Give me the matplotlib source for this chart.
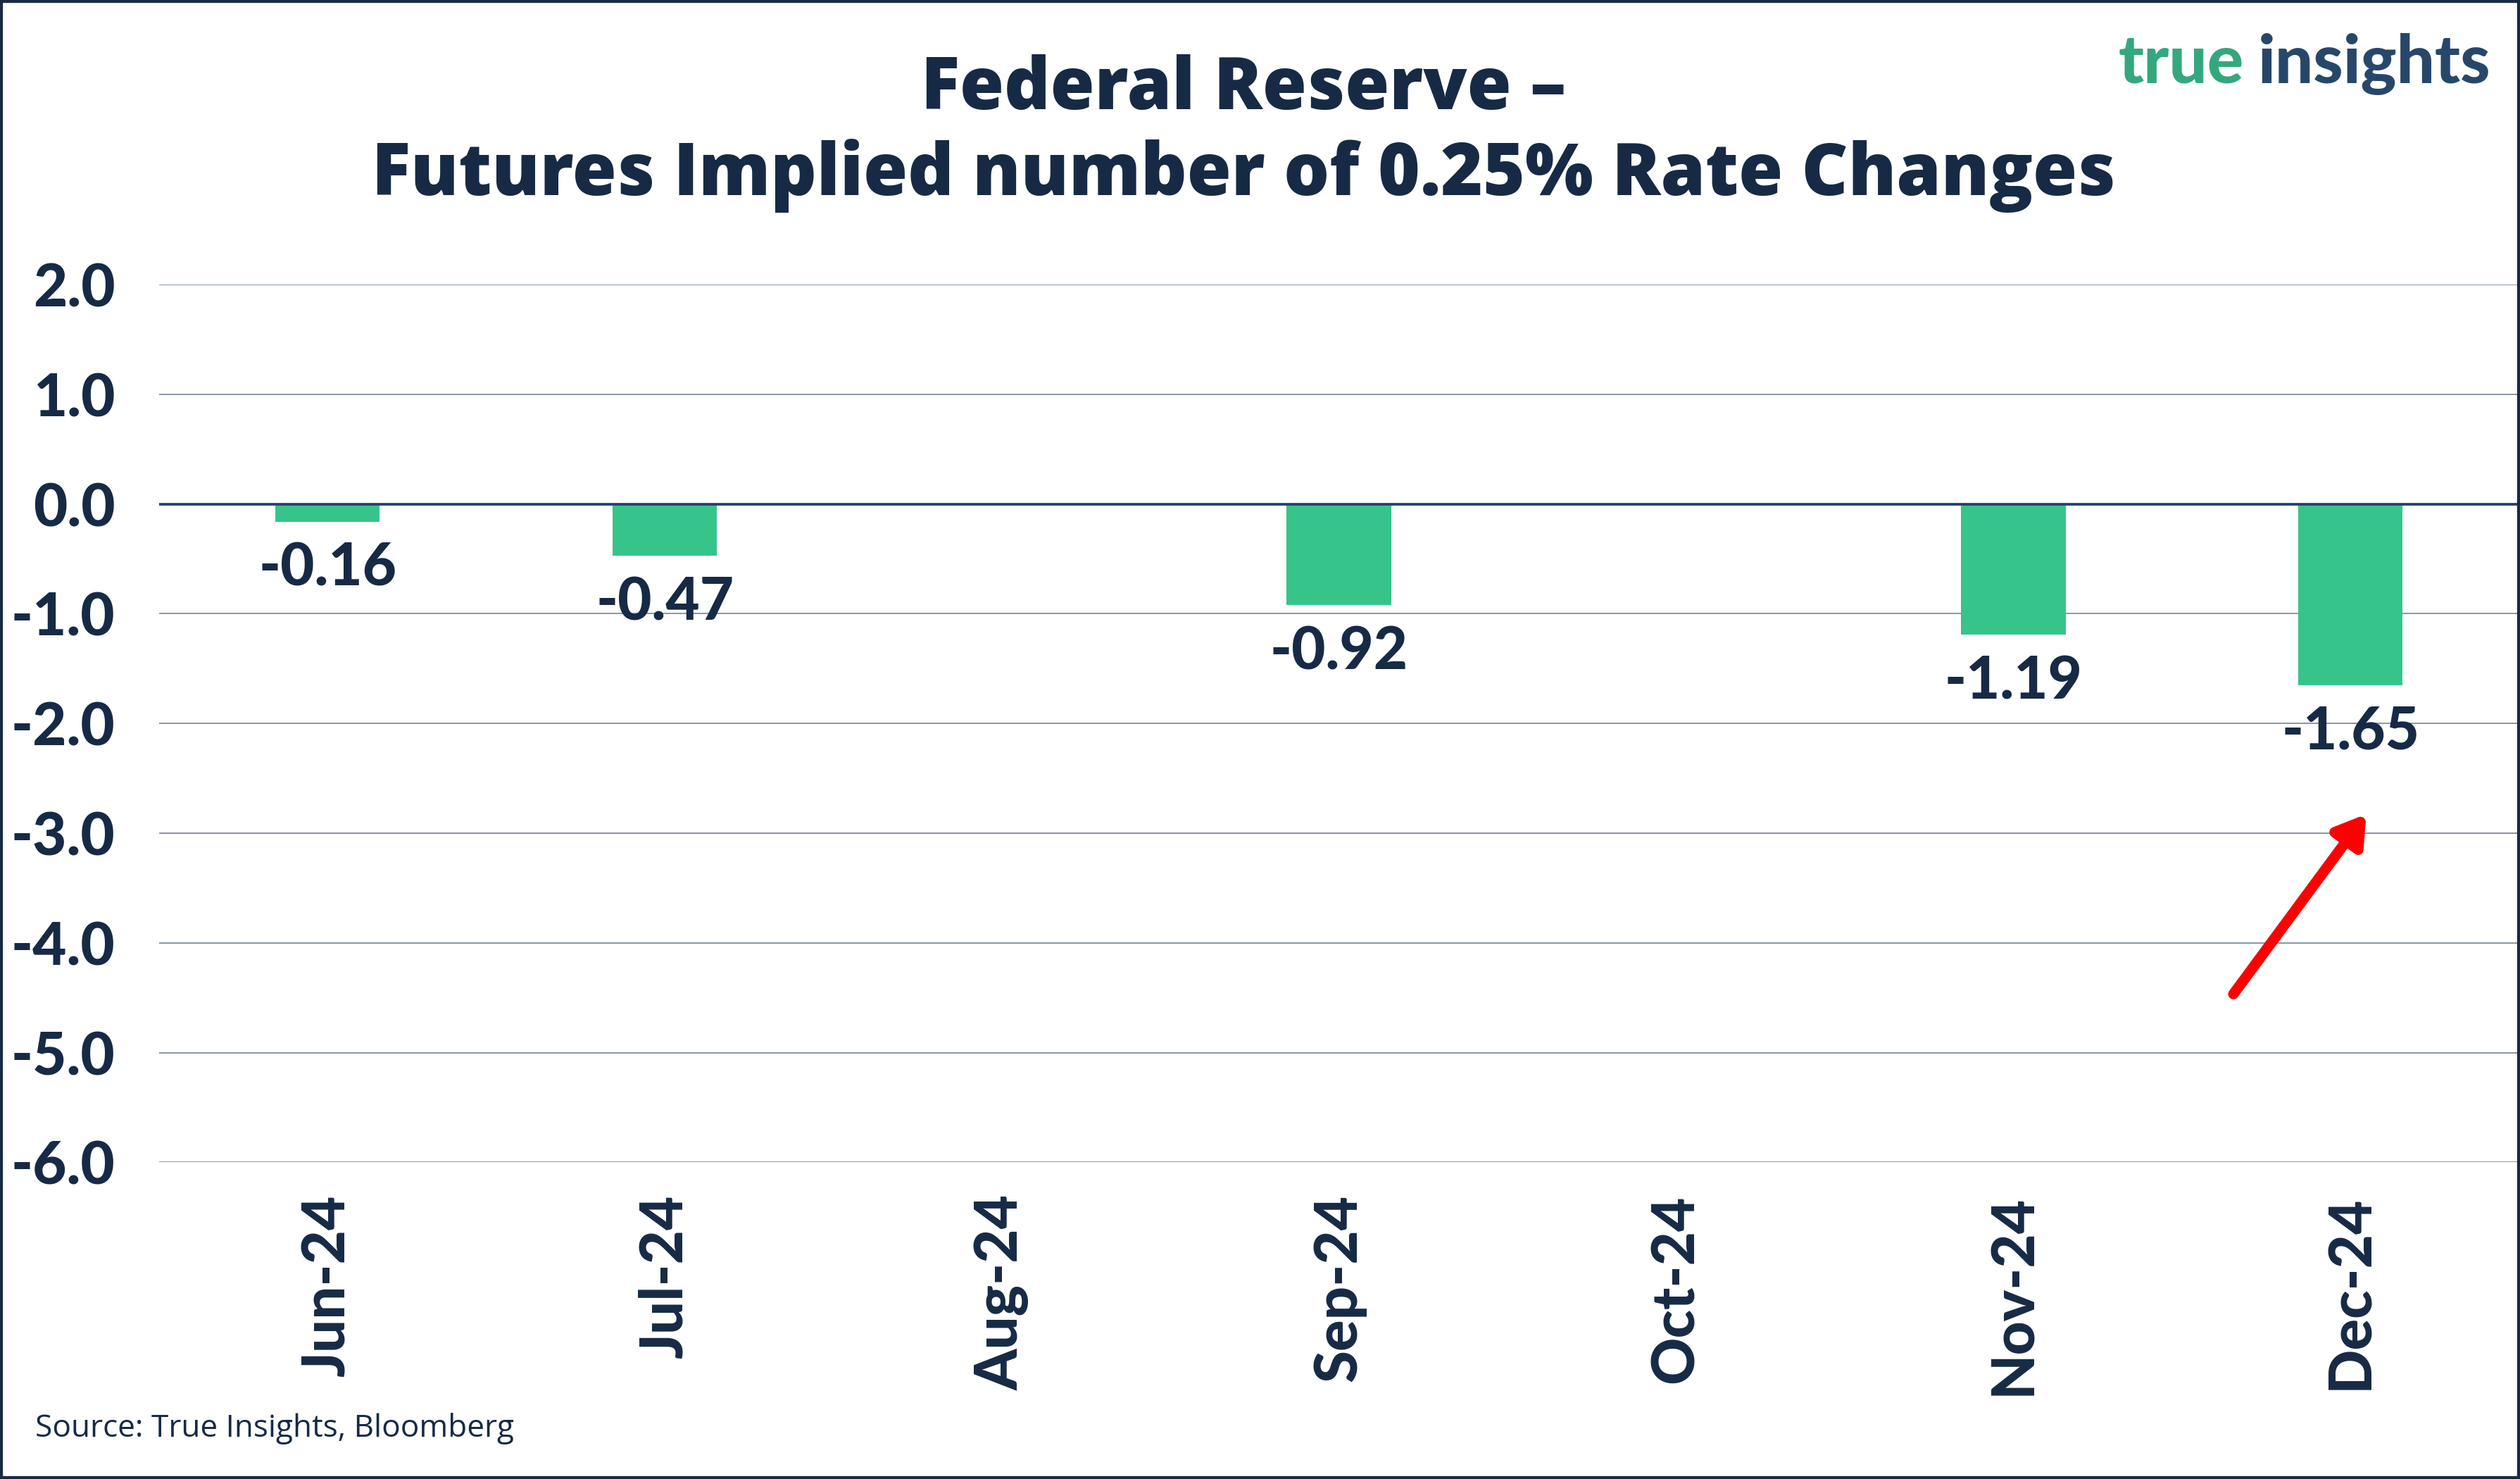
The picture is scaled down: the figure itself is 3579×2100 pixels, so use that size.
import numpy as np
import matplotlib
matplotlib.use("Agg")
import matplotlib.pyplot as plt
from matplotlib.patches import Rectangle

# ---- data ----
months = ["Jun-24", "Jul-24", "Aug-24", "Sep-24", "Oct-24", "Nov-24", "Dec-24"]
rate_changes = [-0.16, -0.47, np.nan, -0.92, np.nan, -1.19, -1.65]
yticks = [2.0, 1.0, 0.0, -1.0, -2.0, -3.0, -4.0, -5.0, -6.0]
title_line1 = "Federal Reserve \u2013"
title_line2 = "Futures Implied number of 0.25% Rate Changes"
source_text = "Source: True Insights, Bloomberg"

NAVY = "#172a45"
GREEN = "#37c48b"
GRID = "#8592a0"
ZERO = "#1f4070"
FONT = ["Lato", "DejaVu Sans"]
TFONT = ["Open Sans", "DejaVu Sans"]
W = "black"

plt.rcParams["font.family"] = FONT

fig = plt.figure(figsize=(3579 / 300, 2100 / 300), dpi=300)
ax = fig.add_axes([0.0631, 0.2141, 0.9365, 0.5935])

x = np.arange(len(months))
vals = np.array(rate_changes, dtype=float)
ax.bar(x, np.nan_to_num(vals), width=0.31, color=GREEN, zorder=3)

ax.set_xlim(-0.5, len(months) - 0.5)
ax.set_ylim(-6.0, 2.0)
ax.set_yticks(yticks)
ax.set_yticklabels([("-" if t < 0 else "") + f"{abs(t):.1f}" for t in yticks],
                   fontsize=20, fontweight=W, color=NAVY)
ax.set_xticks(x)
ax.set_xticklabels(months, rotation=90, fontsize=20, fontweight=W, color=NAVY)
ax.tick_params(axis="both", length=0)
ax.tick_params(axis="y", pad=15)
ax.tick_params(axis="x", pad=11)

for s in ax.spines.values():
    s.set_visible(False)
for t in yticks:
    if t == 0:
        ax.axhline(t, color=ZERO, lw=0.9, zorder=4)
    else:
        ax.axhline(t, color=GRID, lw=0.45, zorder=1)

for xi, v in zip(x, vals):
    if np.isnan(v):
        continue
    ax.annotate("-" + f"{abs(v):.2f}", xy=(xi, v), xytext=(0, -16),
                textcoords="offset points", ha="center", va="center",
                fontsize=20, fontweight=W, color=NAVY, zorder=5)

# red arrow annotation
ax.annotate("", xy=(6.047, -2.826), xytext=(5.653, -4.466),
            arrowprops=dict(arrowstyle="-|>,head_length=0.8,head_width=0.5",
                            color="#ff0000", lw=3.6, shrinkA=0, shrinkB=0),
            zorder=6)

# title
fig.text(0.4936, 0.9262, title_line1, ha="center", va="baseline", fontsize=24.5,
         fontweight=800, color=NAVY, family=TFONT)
fig.text(0.4936, 0.8681, title_line2, ha="center", va="baseline", fontsize=24.5,
         fontweight=800, color=NAVY, family=TFONT)

# logo
fig.text(0.8406, 0.944, "true", ha="left", va="baseline", fontsize=23,
         fontweight=W, color="#34a87c")
fig.text(0.9885, 0.944, "insights", ha="right", va="baseline", fontsize=23,
         fontweight=W, color="#27476a")

# source
fig.text(0.014, 0.034, source_text, ha="left", va="center", fontsize=10.6,
         color=NAVY, family=["Open Sans", "DejaVu Sans"])

# border
fig.patches.append(Rectangle((0, 0), 1, 1, transform=fig.transFigure, fill=False,
                             edgecolor=NAVY, lw=2.0, zorder=10))

fig.savefig("out.png", dpi=300, facecolor="white")
